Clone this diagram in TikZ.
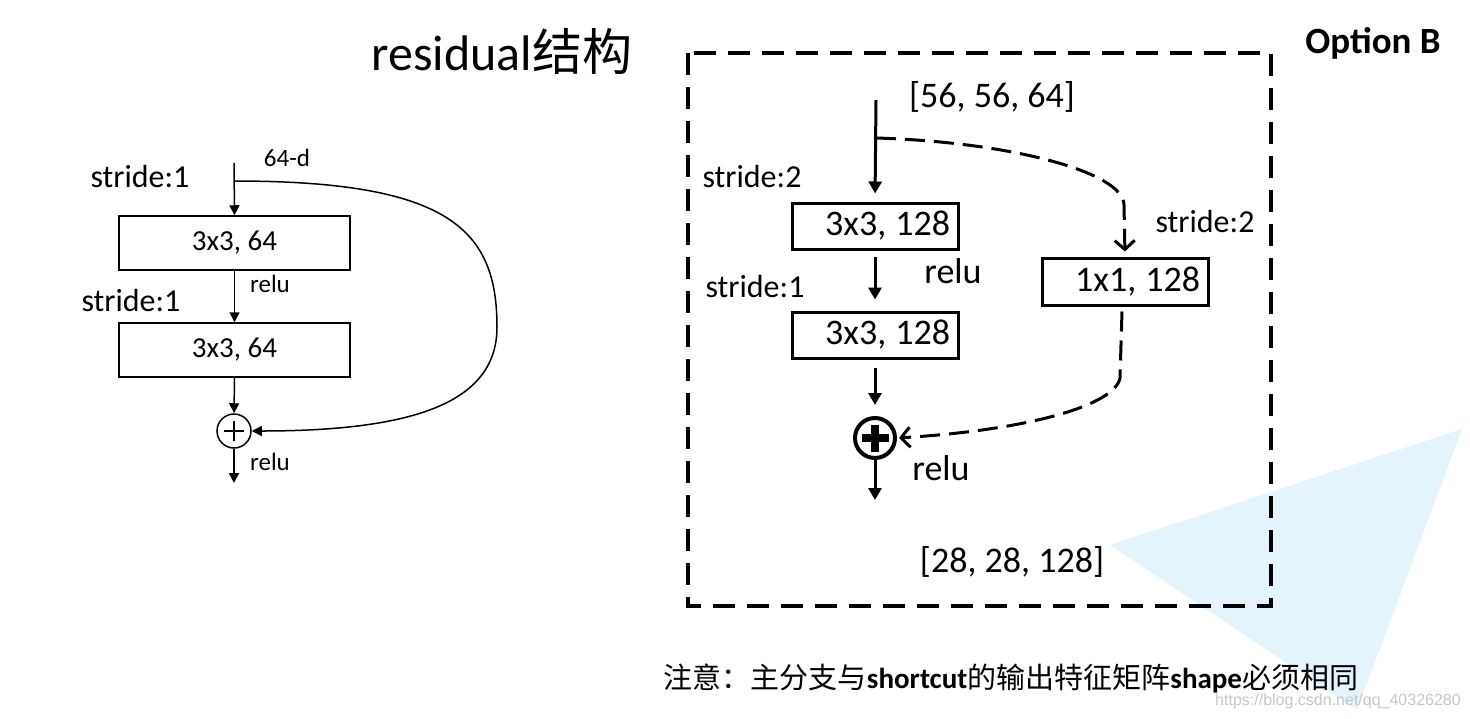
\documentclass[tikz,border=0pt]{standalone}
\usepackage{fontspec}
\setmainfont{Carlito}
\newfontfamily\cjk{Noto Sans CJK SC}
\newfontfamily\wmfont{Liberation Sans}
\usetikzlibrary{arrows.meta}
\definecolor{paleblue}{RGB}{228,244,252}
\frenchspacing
\begin{document}
\begin{tikzpicture}[x=1pt,y=-1pt,
  lbl/.style={inner sep=0pt, anchor=center},
  fs/.style={font=\fontsize{#1}{#1}\selectfont},
  lbox/.style={draw, line width=1.5pt, minimum width=231pt, minimum height=54pt, inner sep=0pt, fs=29},
  rbox/.style={draw, line width=3pt, minimum width=166pt, minimum height=46pt, text width=150pt, align=right, inner xsep=8pt, inner ysep=0pt, fs=36},
  larrow/.style={line width=1.5pt, -{Triangle[length=10pt,width=10pt]}},
  rarrow/.style={line width=3pt, -{Triangle[length=12pt,width=13pt]}},
  rdash/.style={line width=3pt, dash pattern=on 20pt off 9pt, -{Straight Barb[length=9pt,width=20pt,line width=3pt]}},
]
\useasboundingbox (0,0) rectangle (1470,718);
\fill[white] (0,0) rectangle (1470,718);
% pale blue shape
\fill[paleblue] (1110,545) -- (1462,429) -- (1357,710) -- cycle;

% title
\node[lbl, fs=50] (title) at (502,51) {residual{\cjk 结构}};

% ---------- left diagram ----------
\coordinate (inL) at (234,163);
\coordinate (brL) at (234,181);
\node[lbox] (b1) at (234.5,243) {3x3, 64};
\node[lbox] (b2) at (234.5,350) {3x3, 64};
\node[draw, circle, line width=1.5pt, minimum size=34pt, inner sep=0pt] (sumL) at (234,431) {};
\draw[line width=1.5pt] ([xshift=-10pt]sumL.center) -- ([xshift=10pt]sumL.center)
                        ([yshift=-10pt]sumL.center) -- ([yshift=10pt]sumL.center);
\coordinate (outL) at (234,483);
\draw[larrow] (inL) -- (b1.north);
\draw[larrow] (b1.south) -- (b2.north);
\draw[larrow] (b2.south) -- (sumL.north);
\draw[larrow] (sumL.south) -- (outL);
\draw[larrow] (brL) .. controls (450,181) and (497,230) .. (497,327)
                    .. controls (497,400) and (420,431) .. (sumL.east);
\node[lbl, fs=25] (dL) at (287,158) {64-d};
\node[lbl, fs=32] (s1L) at (140,177) {stride:1};
\node[lbl, fs=25] (r1L) at (270,284) {relu};
\node[lbl, fs=32] (s2L) at (131,301) {stride:1};
\node[lbl, fs=25] (r2L) at (270,462) {relu};

% ---------- right diagram ----------
\draw[line width=3.5pt, dash pattern=on 22pt off 12pt] (688,53) rectangle (1271,606);
\node[lbl, font=\bfseries\fontsize{37}{37}\selectfont] (optB) at (1373,43) {Option B};

\coordinate (inR) at (876,100);
\coordinate (brR) at (876,138);
\node[rbox] (A) at (875,226) {3x3,\hspace{0.25em}128};
\node[rbox] (B) at (875,335) {3x3,\hspace{0.25em}128};
\node[rbox, minimum height=47pt] (C) at (1125,281.5) {1x1,\hspace{0.25em}128};
\node[draw, circle, line width=4pt, minimum size=40pt, inner sep=0pt] (sumR) at (875,438) {};
\draw[line width=8pt] ([xshift=-13.5pt]sumR.center) -- ([xshift=13.5pt]sumR.center)
                      ([yshift=-13.5pt]sumR.center) -- ([yshift=13.5pt]sumR.center);
\coordinate (outR) at (875,500);
\coordinate (dn) at (1120,378);

\draw[rarrow, shorten >=8pt] (inR) -- (A.north);
\draw[rarrow, shorten <=6pt, shorten >=11pt] (A.south) -- (B.north);
\draw[rarrow, shorten <=8pt, shorten >=11pt] (B.south) -- (sumR.north);
\draw[rarrow] (sumR.south) -- (outR);
\draw[rdash, shorten >=5pt] (brR) .. controls (1010,142) and (1124,172) .. (1124,205) -- (C.north);
\draw[rdash, shorten >=2pt] ([xshift=-3pt,yshift=-5pt]C.south) -- (dn)
      .. controls (1115,405) and (1030,430) .. (sumR.east);

\node[lbl, fs=36] (inlab) at (992,97) {[56, 56, 64]};
\node[lbl, fs=32] (s2a) at (752,177) {stride:2};
\node[lbl, fs=36] (rA) at (953,271) {relu};
\node[lbl, fs=32] (s1b) at (755,287) {stride:1};
\node[lbl, fs=32] (s2c) at (1205,222) {stride:2};
\node[lbl, fs=36] (rB) at (941,468) {relu};
\node[lbl, fs=36] (outlab) at (1012,562) {[28, 28, 128]};

% bottom note
\node[lbl, fs=29] (note) at (1011,678) {{\cjk 注意：主分支与}\textbf{shortcut}{\cjk 的输出特征矩阵}\textbf{shape}{\cjk 必须相同}};
\node[lbl, text=black!22, font=\wmfont\fontsize{16}{16}\selectfont] (wm) at (1338,701) {https://blog.csdn.net/qq\_40326280};
\end{tikzpicture}
\end{document}
